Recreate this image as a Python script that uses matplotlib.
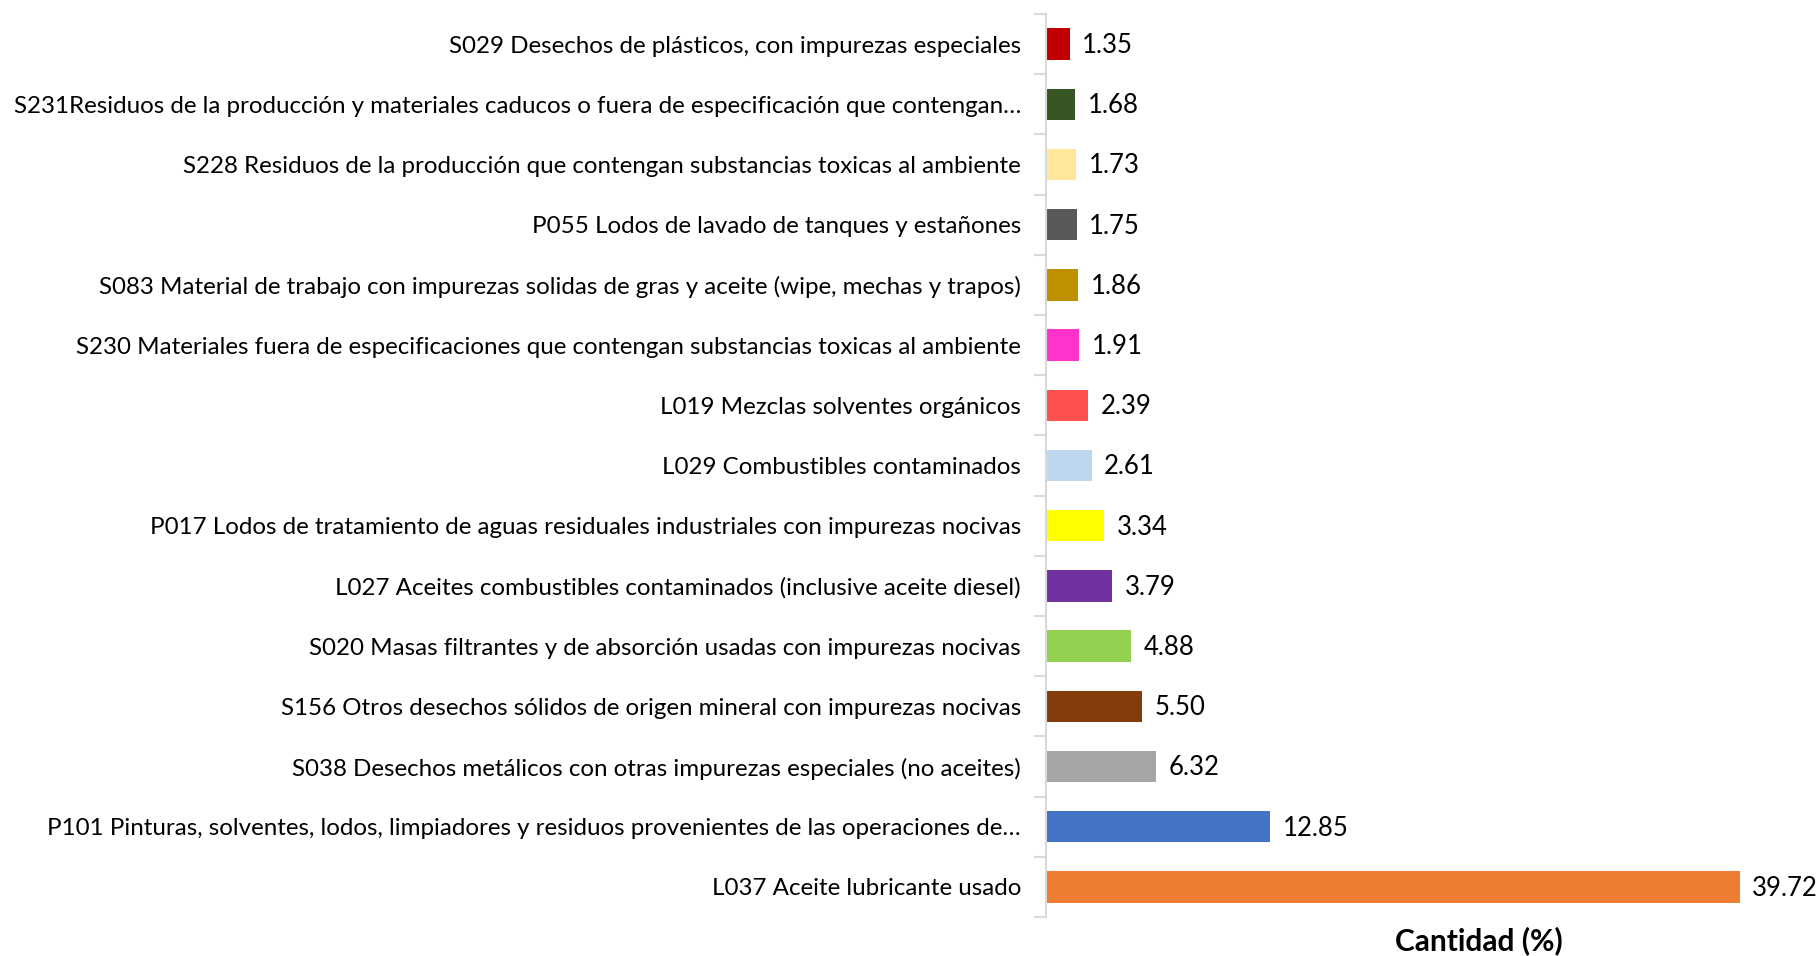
import matplotlib.pyplot as plt
import numpy as np

plt.rcParams['font.family'] = ['Lato', 'DejaVu Sans']

# categories from top to bottom, as in the picture
categories = [
    "S029 Desechos de plásticos, con impurezas especiales",
    "S231Residuos de la producción y materiales caducos o fuera de especificación que contengan…",
    "S228 Residuos de la producción que contengan substancias toxicas al ambiente",
    "P055 Lodos de lavado de tanques y estañones",
    "S083 Material de trabajo con impurezas solidas de gras y aceite (wipe, mechas y trapos)",
    "S230 Materiales fuera de especificaciones que contengan substancias toxicas al ambiente",
    "L019 Mezclas solventes orgánicos",
    "L029 Combustibles contaminados",
    "P017 Lodos de tratamiento de aguas residuales industriales con impurezas nocivas",
    "L027 Aceites combustibles contaminados (inclusive aceite diesel)",
    "S020 Masas filtrantes y de absorción usadas con impurezas nocivas",
    "S156 Otros desechos sólidos de origen mineral con impurezas nocivas",
    "S038 Desechos metálicos con otras impurezas especiales (no aceites)",
    "P101 Pinturas, solventes, lodos, limpiadores y residuos provenientes de las operaciones de…",
    "L037 Aceite lubricante usado",
]
values = [1.35, 1.68, 1.73, 1.75, 1.86, 1.91, 2.39, 2.61, 3.34, 3.79, 4.88, 5.50, 6.32, 12.85, 39.72]
colors = ["#C00000", "#375623", "#FFE699", "#595959", "#BF9000", "#FF33CC", "#FF5050",
          "#BDD7EE", "#FFFF00", "#7030A0", "#92D050", "#843C0C", "#A5A5A5", "#4472C4", "#ED7D31"]

fig = plt.figure(figsize=(18.19, 9.56), dpi=100)
ax = fig.add_axes([1046/1819, 1 - 917/956, (1812 - 1046)/1819, (917 - 14)/956])

n = len(categories)
ypos = np.arange(n)[::-1]
ax.barh(ypos, values, height=0.52, color=colors)

for y, v in zip(ypos, values):
    ax.annotate("%.2f" % v, (v, y), xytext=(9, -1), textcoords="offset points",
                ha="left", va="center", fontsize=18.5)

ax.set_xlim(0, 43.85)
ax.set_ylim(-0.5, n - 0.5)
ax.set_yticks(ypos)
ax.set_yticklabels(categories, fontsize=17.4)
ax.tick_params(axis='y', which='major', length=0, pad=18)
ax.set_yticks(np.arange(-0.5, n, 1), minor=True)
ax.tick_params(axis='y', which='minor', length=9, width=1.5, color="#d9d9d9")
ax.set_xticks([])
for s in ["top", "right", "bottom"]:
    ax.spines[s].set_visible(False)
ax.spines["left"].set_color("#d9d9d9")
ax.spines["left"].set_linewidth(1.5)

fig.text(1479/1819, 1 - 941/956, "Cantidad (%)", ha="center", va="center",
         fontsize=21.5, fontweight="bold")

fig.savefig("out.png", dpi=100)
